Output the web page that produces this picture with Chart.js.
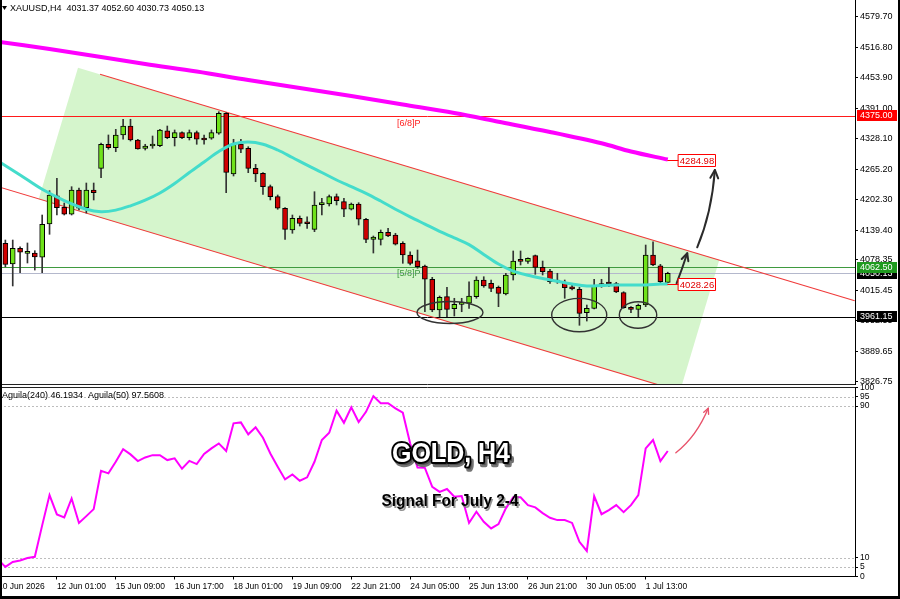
<!DOCTYPE html>
<html><head><meta charset="utf-8">
<script src="https://cdn.jsdelivr.net/npm/chart.js@4.4.1/dist/chart.umd.min.js"></script>
<style>
html,body{margin:0;padding:0;background:#fff;}
#wrap{position:relative;width:900px;height:599px;overflow:hidden;background:#fff;}
#c1{position:absolute;left:0;top:0;width:900px;height:386px;}
#c2{position:absolute;left:0;top:378px;width:900px;height:221px;}
#frame{position:absolute;left:0;top:0;width:900px;height:599px;box-sizing:border-box;border-left:2px solid #000;border-right:2px solid #000;border-bottom:3px solid #000;pointer-events:none;}
</style></head><body>
<div id="wrap">
<canvas id="c1" width="900" height="386"></canvas>
<canvas id="c2" width="900" height="221"></canvas>
<div id="frame"></div>
</div>
<script>
// ---------- data ----------
const symbolTitle = "XAUUSD,H4  4031.37 4052.60 4030.73 4050.13";
const indicatorTitle = "Aguila(240) 46.1934  Aguila(50) 97.5608";
const tickLabels = ["10 Jun 2026","12 Jun 01:00","15 Jun 09:00","16 Jun 17:00","18 Jun 01:00","19 Jun 09:00","22 Jun 21:00","24 Jun 05:00","25 Jun 13:00","26 Jun 21:00","30 Jun 05:00","1 Jul 13:00"];
const tickBars = [0,8,16,24,32,40,48,56,64,72,80,88];
const priceTicks = [4579.70,4516.80,4453.90,4391.00,4328.10,4265.20,4202.30,4139.40,4078.35,4015.45,3952.55,3889.65,3826.75];
const indTicks = [100,95,90,10,5,0];
const indLevels = [95,90,10,5];

const openP  = [4100,4112.2,4069.6,4101.9,4091.6,4092.2,4083.4,4152.1,4210.4,4186.5,4172.1,4222.2,4185.7,4222.2,4266.9,4316.5,4309.5,4335.7,4354.2,4325.4,4308.2,4312.9,4313.6,4344.5,4330.1,4340.4,4330.1,4340.4,4328.9,4328.9,4339.2,4380.4,4255.2,4317.1,4308.2,4266.9,4256.6,4229.0,4208.4,4184.5,4139.7,4163.8,4153.5,4141.1,4192.0,4193.3,4208.4,4198.1,4182.4,4193.3,4161.8,4120.0,4120.5,4134.9,4129.4,4112.2,4088.1,4076.3,4065.4,4038.0,3974.6,4002.1,3977.3,3986.4,3988.5,4002.1,4036.5,4029.7,4021.5,4007.6,4046.9,4075.7,4075.1,4086.7,4062.7,4055.1,4033.5,4031.8,4022.7,4017.3,3969.1,3978.1,4024.8,4028.9,4028.9,4010.4,3978.8,3976.1,3984.9,4088.1,4066.0,4031.37];
const highP  = [4110,4119.0,4119.0,4105.2,4112.9,4097.0,4170.6,4220.8,4246.3,4195.4,4229.0,4226.3,4236.6,4236.6,4319.2,4335.7,4347.4,4368.1,4368.1,4326.8,4316.5,4333.6,4347.4,4354.2,4346.0,4342.0,4346.0,4343.9,4335.7,4346.0,4383.7,4381.7,4326.8,4326.8,4311.5,4275.2,4257.9,4232.5,4211.9,4185.7,4170.6,4168.6,4167.1,4218.7,4205.1,4211.9,4214.0,4205.1,4195.4,4196.0,4163.8,4127.3,4139.7,4143.2,4132.9,4115.5,4094.9,4098.4,4067.5,4042.1,4003.5,4021.5,3998.8,3998.8,4033.0,4043.3,4043.3,4036.5,4024.2,4050.4,4096.4,4096.4,4082.5,4088.1,4075.7,4058.6,4050.4,4036.5,4026.2,4021.5,3984.9,4038.0,4038.0,4062.7,4031.8,4012.4,3981.5,3987.0,4108.7,4115.5,4068.9,4052.60];
const lowP   = [4080,4063.9,4024.2,4051.6,4071.6,4057.1,4051.6,4130.8,4170.6,4170.6,4170.6,4180.9,4174.7,4201.6,4247.6,4306.2,4301.2,4326.8,4323.3,4306.2,4304.7,4308.2,4311.5,4328.0,4313.0,4328.0,4325.4,4316.5,4316.5,4326.8,4337.1,4216.6,4251.1,4299.2,4257.9,4239.3,4213.3,4201.6,4182.4,4120.5,4132.9,4147.9,4143.2,4136.2,4170.6,4189.2,4191.3,4167.1,4180.9,4150.0,4113.5,4092.2,4108.7,4125.8,4108.7,4071.0,4067.5,4060.7,3971.1,3971.1,3960.8,3960.8,3962.3,3971.1,3978.1,3998.8,4021.5,4012.4,3981.5,4005.6,4036.5,4067.5,4071.0,4048.3,4046.9,4029.7,4029.7,3998.8,4015.9,3943.1,3951.9,3977.0,4021.5,4022.7,4010.4,3978.1,3969.1,3960.8,3981.5,4066.0,4029.7,4030.73];
const closeP = [4090,4068.9,4101.9,4093.7,4094.9,4084.0,4151.4,4211.9,4185.7,4172.1,4222.2,4184.5,4222.2,4216.6,4316.5,4309.5,4335.7,4354.2,4325.4,4306.8,4312.9,4316.5,4346.0,4330.1,4340.4,4330.1,4340.4,4326.8,4325.4,4340.4,4380.4,4258.7,4317.1,4306.2,4266.9,4255.2,4229.0,4208.4,4184.5,4141.1,4163.8,4153.5,4152.5,4191.3,4193.3,4208.4,4200.1,4182.4,4193.3,4161.8,4120.5,4125.2,4134.9,4127.3,4110.2,4088.1,4071.0,4063.9,4038.0,3974.6,4000.8,3976.1,3986.4,3987.7,4003.5,4036.5,4024.2,4019.4,4009.1,4046.9,4075.7,4075.1,4081.3,4062.7,4053.6,4033.0,4032.5,4020.6,4017.9,3967.8,3978.1,4024.2,4028.9,4028.2,4011.8,3979.4,3976.1,3984.3,4088.1,4067.5,4033.0,4050.13];

const maFastBars = [0,3,6,9,12,14,16,18,20,22,24,26,28,30,32,34,36,38,40,42,44,46,48,50,52,54,56,58,60,62,64,66,68,70,72,74,76,78,80,82,84,86,88,90,91];
const maFastVals = [4282.2,4253.2,4223.6,4200.5,4182.6,4177.4,4180.7,4189.6,4201.2,4216.0,4235.6,4258.3,4280.0,4301.6,4317.1,4321.2,4316.7,4304.7,4289.2,4273.4,4258.3,4242.8,4229.0,4215.4,4199.5,4182.6,4166.9,4151.9,4137.0,4123.6,4109.6,4089.3,4069.5,4054.9,4046.4,4039.8,4033.9,4028.3,4024.2,4025.0,4026.2,4026.2,4026.2,4028.3,4028.26];
const maSlowBars = [0,7,14,20,27,34,41,48,55,62,68,75,82,86,91];
const maSlowVals = [4528.1,4513.1,4496.6,4482.1,4466.7,4449.1,4432.6,4416.1,4398.6,4381.0,4363.1,4341.9,4318.5,4301.6,4284.98];

const aguila = [9,5.1,7.7,8.5,9.8,10.4,27,43.0,32.8,31.2,41.2,28.3,31.9,35.6,55.8,54.5,60.6,67.2,64.5,61.0,62.9,64.1,64.1,61.5,62.4,56.9,61.1,59.4,64.7,67.7,70.3,66.3,80.9,81.4,75.1,78.8,73.3,65.0,58.0,51.3,53.9,50.6,52.4,60.6,72.1,75.9,87.6,81.2,89.4,81.6,87.0,95.3,91.5,91.5,88.8,86.5,70.3,57.6,57.4,47.4,44.7,46.2,42.1,42.5,28.3,34.2,28.9,25.4,27.7,36.0,41.8,41.8,37.7,36.5,33.5,31.0,29.8,29.8,28.3,18.3,13.5,42.5,32.9,35.1,37.7,34.0,37.7,43.0,67.7,72.1,61.0,66.3];

const levelMurrey68 = 4375.00;
const levelMurrey58 = 4062.50;
const levelBid = 4050.13;
const levelSupport = 3961.15;
const murreyLabelBar = 54.2;

// channel (bar index, price)
const channelUpper = [[13.86,4460.9],[116.4,3993.6]];
const channelLower = [[0,4229.0],[90,3819.1]];
const channelBox = [[10.87,4474.5],[98.0,4077.6],[92.66,3806.9],[5.53,4203.8]];
// ellipses: centre bar, centre price, half-width bars, half-height price
const lowEllipses = [[61.41,3969.5,4.48,22.7],[78.97,3964.3,3.74,34.4],[86.96,3964.3,2.54,27.4]];
const arrowBig = [[95.0,4104.0],[96.97,4174.7],[97.4,4263.5]];
const arrowSmall = [[92.2,4029.7],[92.9,4057.1],[93.65,4091.6]];
const arrowInd = [[92.1,65.4],[94.9,73.9],[96.5,88.9]];

const barMin = 0.27, barMax = 116.44;
const priceMin = 3822.0, priceMax = 4614.15;

// ---------- style ----------
const FONT = '"Liberation Sans", Arial, sans-serif';
Chart.defaults.font.family = FONT;
Chart.defaults.animation = false;
const UP = '#6fe21a', DOWN = '#d00000';

function clipArea(ctx, ca){ ctx.beginPath(); ctx.rect(ca.left, ca.top, ca.right-ca.left, ca.bottom-ca.top); ctx.clip(); }
function curveArrow(ctx, p, color, width, head){
  ctx.strokeStyle = color; ctx.lineWidth = width; ctx.lineCap = 'round'; ctx.lineJoin = 'round';
  ctx.beginPath(); ctx.moveTo(p[0][0], p[0][1]); ctx.quadraticCurveTo(p[1][0], p[1][1], p[2][0], p[2][1]); ctx.stroke();
  const a = Math.atan2(p[2][1]-p[1][1], p[2][0]-p[1][0]);
  ctx.beginPath();
  ctx.moveTo(p[2][0]-head*Math.cos(a-0.45), p[2][1]-head*Math.sin(a-0.45));
  ctx.lineTo(p[2][0], p[2][1]);
  ctx.lineTo(p[2][0]-head*Math.cos(a+0.45), p[2][1]-head*Math.sin(a+0.45));
  ctx.stroke();
}
function axisBox(ctx, py, bg, fg, text){
  const top = Math.round(py - 5.5);
  ctx.fillStyle = bg; ctx.fillRect(857, top, 40, 11);
  ctx.fillStyle = fg; ctx.font = '9px ' + FONT; ctx.textAlign = 'left'; ctx.textBaseline = 'middle';
  ctx.fillText(text, 860, top + 5.8);
}
function valueBox(ctx, x0, py, text){
  const bx = Math.round(x0 + 10) + 0.5, by = Math.round(py - 6) + 0.5;
  ctx.strokeStyle = '#ff0000'; ctx.lineWidth = 1;
  ctx.beginPath(); ctx.moveTo(x0, Math.round(py)+0.5); ctx.lineTo(bx, Math.round(py)+0.5); ctx.stroke();
  ctx.fillStyle = '#fff'; ctx.fillRect(bx, by, 37, 12); ctx.strokeRect(bx, by, 37, 12);
  ctx.fillStyle = '#e00000'; ctx.font = '9.5px ' + FONT; ctx.textAlign = 'center'; ctx.textBaseline = 'middle';
  ctx.fillText(text, bx + 18.5, by + 6.5);
}

const mainDecor = {
  id: 'mainDecor',
  beforeDatasetsDraw(chart){
    const {ctx, chartArea: ca, scales:{x, y}} = chart;
    const X = v => x.getPixelForValue(v), Y = v => y.getPixelForValue(v);
    ctx.save(); clipArea(ctx, ca);
    ctx.fillStyle = '#d5f5cc';
    ctx.beginPath();
    channelBox.forEach((p,k) => k ? ctx.lineTo(X(p[0]), Y(p[1])) : ctx.moveTo(X(p[0]), Y(p[1])));
    ctx.closePath(); ctx.fill();
    const hl = (v, c) => { const py = Math.round(Y(v)) + 0.5; ctx.strokeStyle = c; ctx.lineWidth = 1; ctx.beginPath(); ctx.moveTo(ca.left, py); ctx.lineTo(ca.right, py); ctx.stroke(); };
    hl(levelBid, '#b4b8cc'); hl(levelMurrey58, '#3f9a3f'); hl(levelMurrey68, '#ff1a1a'); hl(levelSupport, '#000000');
    ctx.strokeStyle = '#f03a3a'; ctx.lineWidth = 1.1;
    [channelUpper, channelLower].forEach(l => { ctx.beginPath(); ctx.moveTo(X(l[0][0]), Y(l[0][1])); ctx.lineTo(X(l[1][0]), Y(l[1][1])); ctx.stroke(); });
    ctx.font = '9px ' + FONT; ctx.textBaseline = 'top'; ctx.textAlign = 'left';
    ctx.fillStyle = '#ff2020'; ctx.fillText('[6/8]P', X(murreyLabelBar), Y(levelMurrey68) + 3);
    ctx.fillStyle = '#3f9a3f'; ctx.fillText('[5/8]P', X(murreyLabelBar), Y(levelMurrey58) + 2);
    ctx.restore();
  },
  afterDatasetsDraw(chart){
    const {ctx, chartArea: ca, scales:{x, y}} = chart;
    const X = v => x.getPixelForValue(v), Y = v => y.getPixelForValue(v);
    ctx.save(); clipArea(ctx, ca);
    ctx.strokeStyle = '#333'; ctx.lineWidth = 1.4;
    lowEllipses.forEach(e => {
      const cx = X(e[0]), cy = Y(e[1]);
      ctx.beginPath(); ctx.ellipse(cx, cy, X(e[0]+e[2]) - cx, Y(e[1]-e[3]) - cy, 0, 0, Math.PI*2); ctx.stroke();
    });
    curveArrow(ctx, arrowBig.map(p => [X(p[0]), Y(p[1])]), '#2b2b2b', 2, 9);
    curveArrow(ctx, arrowSmall.map(p => [X(p[0]), Y(p[1])]), '#2b2b2b', 2, 8);
    valueBox(ctx, X(maSlowBars[maSlowBars.length-1]), Y(maSlowVals[maSlowVals.length-1]), maSlowVals[maSlowVals.length-1].toFixed(2));
    valueBox(ctx, X(maFastBars[maFastBars.length-1]), Y(maFastVals[maFastVals.length-1]), maFastVals[maFastVals.length-1].toFixed(2));
    ctx.restore();
  },
  afterDraw(chart){
    const {ctx, chartArea: ca, scales:{y}} = chart;
    ctx.save();
    axisBox(ctx, y.getPixelForValue(levelMurrey68), '#ff0000', '#fff', levelMurrey68.toFixed(2));
    axisBox(ctx, y.getPixelForValue(levelBid), '#000', '#fff', levelBid.toFixed(2));
    axisBox(ctx, y.getPixelForValue(levelMurrey58), '#1f9a1f', '#fff', levelMurrey58.toFixed(2));
    axisBox(ctx, y.getPixelForValue(levelSupport), '#000', '#fff', levelSupport.toFixed(2));
    ctx.strokeStyle = '#222'; ctx.lineWidth = 1;
    ctx.beginPath(); ctx.moveTo(0, Math.round(ca.bottom)+0.5); ctx.lineTo(ca.right, Math.round(ca.bottom)+0.5); ctx.stroke();
    ctx.fillStyle = '#000';
    ctx.beginPath(); ctx.moveTo(2,6); ctx.lineTo(7,6); ctx.lineTo(4.5,10); ctx.closePath(); ctx.fill();
    ctx.font = '9px ' + FONT; ctx.textAlign = 'left'; ctx.textBaseline = 'middle';
    ctx.fillText(symbolTitle, 10, 9);
    ctx.restore();
  }
};

const indDecor = {
  id: 'indDecor',
  beforeDatasetsDraw(chart){
    const {ctx, chartArea: ca, scales:{y}} = chart;
    ctx.save();
    ctx.strokeStyle = '#222'; ctx.lineWidth = 1;
    ctx.beginPath(); ctx.moveTo(0, Math.round(ca.top)+0.5); ctx.lineTo(ca.right, Math.round(ca.top)+0.5); ctx.stroke();
    ctx.strokeStyle = '#bdbdbd'; ctx.setLineDash([2,2]);
    indLevels.forEach(v => { const py = Math.round(y.getPixelForValue(v))+0.5; ctx.beginPath(); ctx.moveTo(ca.left, py); ctx.lineTo(ca.right, py); ctx.stroke(); });
    ctx.restore();
  },
  afterDatasetsDraw(chart){
    const {ctx, chartArea: ca, scales:{x, y}} = chart;
    const X = v => x.getPixelForValue(v), Y = v => y.getPixelForValue(v);
    ctx.save(); clipArea(ctx, ca);
    curveArrow(ctx, arrowInd.map(p => [X(p[0]), Y(p[1])]), '#e8546c', 1.4, 6);
    ctx.restore();
    ctx.save();
    ctx.font = 'bold 28px ' + FONT; ctx.textAlign = 'center'; ctx.textBaseline = 'middle'; ctx.lineJoin = 'round';
    let t = 'GOLD, H4', w = ctx.measureText(t).width;
    ctx.translate(451, 76); ctx.scale(118 / w, 1);
    ctx.lineWidth = 4.5; ctx.strokeStyle = 'rgba(70,70,70,0.75)'; ctx.fillStyle = 'rgba(70,70,70,0.75)';
    ctx.strokeText(t, 2.5, 3); ctx.fillText(t, 2.5, 3);
    ctx.lineWidth = 4; ctx.strokeStyle = '#000'; ctx.strokeText(t, 0, 0);
    ctx.fillStyle = '#fff'; ctx.fillText(t, 0, 0);
    ctx.restore();
    ctx.save();
    ctx.font = 'bold 16px ' + FONT; ctx.textAlign = 'center'; ctx.textBaseline = 'middle';
    t = 'Signal For July 2-4'; w = ctx.measureText(t).width;
    ctx.translate(450, 123.5); ctx.scale(137 / w, 1);
    ctx.fillStyle = 'rgba(120,120,120,0.8)'; ctx.fillText(t, 1.5, 1.8);
    ctx.fillStyle = '#000'; ctx.fillText(t, 0, 0);
    ctx.restore();
  },
  afterDraw(chart){
    const {ctx} = chart;
    ctx.save();
    ctx.font = '9px ' + FONT; ctx.fillStyle = '#000'; ctx.textAlign = 'left'; ctx.textBaseline = 'middle';
    ctx.fillText(indicatorTitle, 2, 18);
    ctx.restore();
  }
};

const bodies = openP.map((o,i) => ({x: i, y: [o, closeP[i]]}));
const wicks = lowP.map((l,i) => ({x: i, y: [l, highP[i]]}));
const bodyColors = openP.map((o,i) => closeP[i] >= o ? UP : DOWN);

new Chart(document.getElementById('c1'), {
  type: 'bar',
  data: { datasets: [
    { type:'line', data: maSlowBars.map((b,k) => ({x:b, y:maSlowVals[k]})), borderColor:'#ff00ff', borderWidth:4, pointRadius:0, tension:0.35, order:0 },
    { type:'line', data: maFastBars.map((b,k) => ({x:b, y:maFastVals[k]})), borderColor:'#44dccb', borderWidth:3, pointRadius:0, tension:0.35, order:0 },
    { type:'bar', data: bodies, backgroundColor: bodyColors, borderColor:'#000', borderWidth:1, borderSkipped:false, barThickness:5, minBarLength:2, grouped:false, order:1 },
    { type:'bar', data: wicks, backgroundColor:'#333', borderWidth:0, barThickness:1, grouped:false, order:2 }
  ]},
  options: {
    responsive:false, events:[], animation:false,
    layout:{ padding:{left:0, right:0, top:0, bottom:2} },
    plugins:{ legend:{display:false}, tooltip:{enabled:false} },
    scales:{
      x:{ type:'linear', min:barMin, max:barMax, display:false, offset:false, grid:{offset:false}, bounds:'ticks',
          afterFit: s => { s.paddingLeft = 0; s.paddingRight = 0; } },
      y:{ type:'linear', position:'right', min:priceMin, max:priceMax,
          afterBuildTicks: s => { s.ticks = priceTicks.map(v => ({value:v})); },
          afterFit: s => { s.width = 45; s.paddingTop = 0; s.paddingBottom = 0; },
          grid:{ drawOnChartArea:false, drawTicks:true, tickLength:3, color:'#000' },
          border:{ display:true, color:'#000', width:1 },
          ticks:{ color:'#000', font:{size:9}, padding:2, autoSkip:false, callback: v => Number(v).toFixed(2) } }
    }
  },
  plugins:[mainDecor]
});

new Chart(document.getElementById('c2'), {
  type: 'line',
  data: { datasets: [
    { data: aguila.map((v,i) => ({x:i, y:v})), borderColor:'#ff00ff', borderWidth:2, pointRadius:0, tension:0 }
  ]},
  options: {
    responsive:false, events:[], animation:false,
    layout:{ padding:{left:0, right:0, top:9.2, bottom:0} },
    plugins:{ legend:{display:false}, tooltip:{enabled:false} },
    scales:{
      x:{ type:'linear', min:barMin, max:barMax, position:'bottom', offset:false,
          afterBuildTicks: s => { s.ticks = tickBars.map(v => ({value:v})); },
          afterFit: s => { s.height = 22.5; s.paddingLeft = 0; s.paddingRight = 0; },
          grid:{ drawOnChartArea:false, drawTicks:true, tickLength:3, color:'#000' },
          border:{ display:true, color:'#000', width:1 },
          ticks:{ color:'#000', font:{size:8.5}, padding:2, autoSkip:false, maxRotation:0, minRotation:0, align:'start',
                  callback: v => tickLabels[tickBars.indexOf(v)] } },
      y:{ type:'linear', position:'right', min:0, max:100,
          afterBuildTicks: s => { s.ticks = indTicks.map(v => ({value:v})); },
          afterFit: s => { s.width = 45; s.paddingTop = 0; s.paddingBottom = 0; },
          grid:{ drawOnChartArea:false, drawTicks:true, tickLength:3, color:'#000' },
          border:{ display:true, color:'#000', width:1 },
          ticks:{ color:'#000', font:{size:8.5}, padding:2, autoSkip:false, callback: v => String(v) } }
    }
  },
  plugins:[indDecor]
});
</script>
</body></html>
